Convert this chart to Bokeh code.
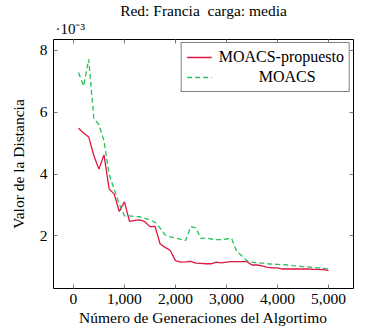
from bokeh.plotting import figure
from bokeh.models import (Range1d, FixedTicker, NumeralTickFormatter, LinearAxis, Legend,
                          LegendItem, Title, CustomJSTickFormatter)
from bokeh.embed import file_html
from bokeh.resources import INLINE

generations = [100, 200, 300, 400, 500, 600, 700, 800, 900, 1000,
               1100, 1200, 1300, 1400, 1500, 1600, 1700, 1800, 1900, 2000,
               2100, 2200, 2300, 2400, 2500, 2600, 2700, 2800, 2900, 3000,
               3100, 3200, 3300, 3400, 3500, 3600, 3700, 3800, 3900, 4000,
               4100, 4200, 4300, 4400, 4500, 4600, 4700, 4800, 4900, 5000]

moacs_propuesto = [5.48, 5.33, 5.20, 4.60, 4.16, 4.62, 3.52, 3.35, 2.79, 3.10,
                   2.47, 2.50, 2.52, 2.46, 2.30, 2.31, 1.74, 1.63, 1.53, 1.20,
                   1.15, 1.16, 1.18, 1.12, 1.11, 1.10, 1.10, 1.15, 1.13, 1.15,
                   1.17, 1.17, 1.17, 1.17, 1.06, 1.06, 1.03, 0.98, 0.97, 0.97,
                   0.93, 0.93, 0.93, 0.93, 0.93, 0.93, 0.92, 0.92, 0.91, 0.88]

moacs = [7.28, 6.85, 7.71, 5.80, 5.60, 5.07, 4.00, 3.50, 3.03, 2.65,
         2.65, 2.63, 2.62, 2.57, 2.52, 2.44, 2.25, 2.03, 1.97, 1.93,
         1.89, 1.85, 2.30, 2.26, 1.92, 1.93, 1.90, 1.88, 1.88, 1.90,
         1.92, 1.50, 1.36, 1.20, 1.15, 1.13, 1.12, 1.10, 1.09, 1.08,
         1.07, 1.06, 1.04, 1.03, 1.01, 1.00, 0.98, 0.97, 0.95, 0.93]

x_ticks = [0, 1000, 2000, 3000, 4000, 5000]
y_ticks = [2, 4, 6, 8]

title_text = "Red: Francia\u00a0 carga: media"
scale_text = "·10⁻³"
x_label = "Número de Generaciones del Algortimo"
y_label = "Valor de la Distancia"
series_names = ["MOACS-propuesto", "MOACS"]

FONT = "Liberation Serif"
FS = "15.5px"
RED = "#E0163F"
GREEN = "#27C25A"

p = figure(width=365, height=332, output_backend="svg", toolbar_location=None, title=None,
           x_range=Range1d(-390, 5490), y_range=Range1d(0.3, 8.35),
           min_border_left=53, min_border_right=12, min_border_top=39, min_border_bottom=44)

p.xgrid.visible = False
p.ygrid.visible = False
p.outline_line_color = "black"
p.outline_line_alpha = 1.0
p.outline_line_width = 1

p.xaxis[0].ticker = FixedTicker(ticks=x_ticks)
p.xaxis[0].formatter = NumeralTickFormatter(format="0,0")
p.yaxis[0].ticker = FixedTicker(ticks=y_ticks)

def style_axis(ax):
    ax.axis_line_color = None
    ax.major_tick_in = 4
    ax.major_tick_out = 0
    ax.major_tick_line_color = "#777777"
    ax.minor_tick_line_color = None
    ax.major_label_text_font = FONT
    ax.major_label_text_font_size = FS
    ax.major_label_text_color = "black"
    ax.axis_label_text_font = FONT
    ax.axis_label_text_font_size = FS
    ax.axis_label_text_font_style = "normal"
    ax.axis_label_text_color = "black"

style_axis(p.xaxis[0])
style_axis(p.yaxis[0])
p.xaxis[0].axis_label = x_label
p.xaxis[0].major_label_standoff = 5
p.xaxis[0].axis_label_standoff = 2
p.yaxis[0].axis_label = y_label
p.yaxis[0].major_label_standoff = 6
p.yaxis[0].axis_label_standoff = 10

blank = CustomJSTickFormatter(code="return ''")
top_ax = LinearAxis(ticker=FixedTicker(ticks=x_ticks), formatter=blank)
style_axis(top_ax)
top_ax.major_label_standoff = 0
right_ax = LinearAxis(ticker=FixedTicker(ticks=y_ticks), formatter=blank)
style_axis(right_ax)
right_ax.major_label_standoff = 0
p.add_layout(right_ax, "right")

sub_title = Title(text=scale_text, align="left", offset=2, standoff=5,
                  text_font=FONT, text_font_size="15px", text_font_style="normal",
                  text_color="black")
main_title = Title(text=title_text, align="center", standoff=-5,
                   text_font=FONT, text_font_size=FS, text_font_style="normal",
                   text_color="black")
p.add_layout(top_ax, "above")
p.add_layout(sub_title, "above")
p.add_layout(main_title, "above")

r1 = p.line(generations, moacs_propuesto, line_color=RED, line_width=1.3)
r2 = p.line(generations, moacs, line_color=GREEN, line_width=1.3, line_dash="5 3")

legend = Legend(items=[LegendItem(label=series_names[0], renderers=[r1]),
                       LegendItem(label="\u00a0" * 10 + series_names[1], renderers=[r2])],
                location="top_right")
legend.label_text_font = FONT
legend.label_text_font_size = "16px"
legend.label_text_color = "black"
legend.border_line_color = "black"
legend.border_line_width = 1
legend.background_fill_alpha = 1.0
legend.margin = 3
legend.padding = 5
legend.spacing = 2
legend.glyph_width = 25
legend.glyph_height = 16
legend.label_height = 16
legend.label_standoff = 7
p.add_layout(legend, "center")

open("out.html", "w").write(file_html(p, INLINE))
